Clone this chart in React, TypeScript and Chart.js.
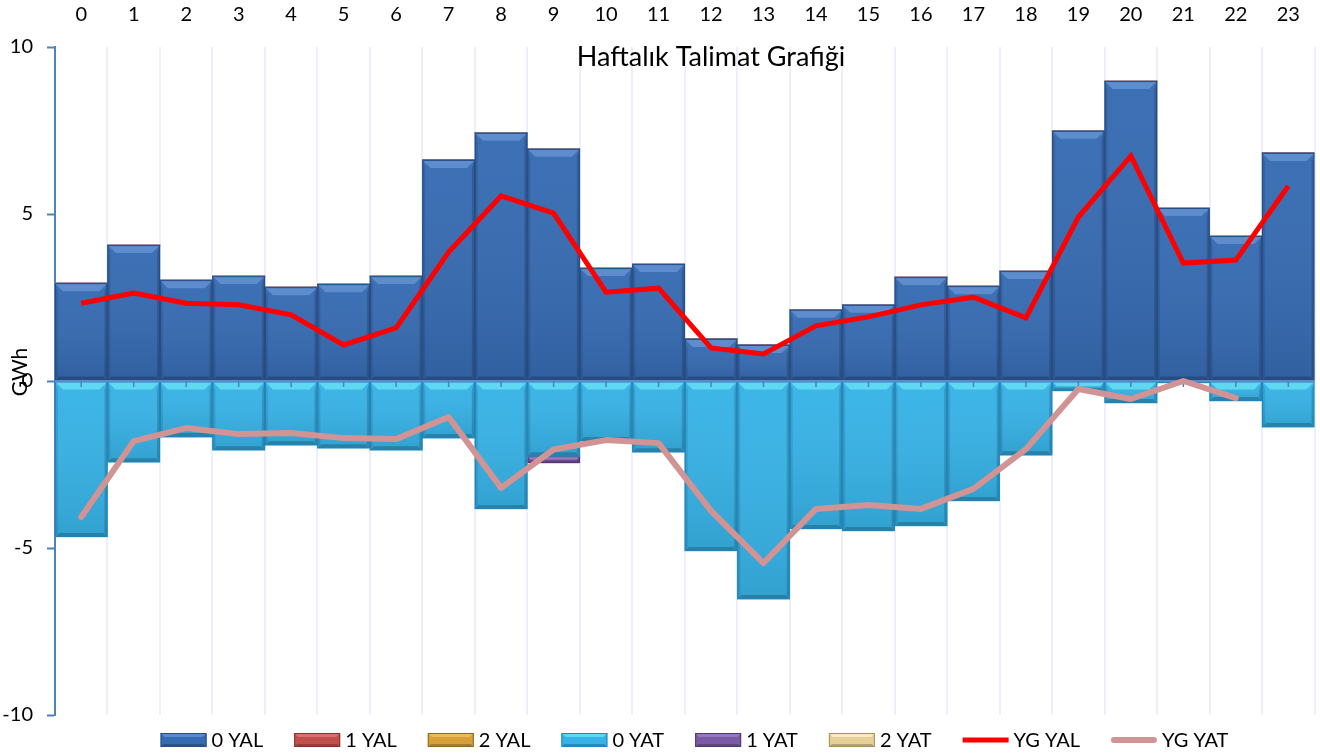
import React, { useEffect, useRef } from "react";
import { Chart, registerables } from "chart.js";

Chart.register(...registerables);

const hours = ["0","1","2","3","4","5","6","7","8","9","10","11","12","13","14","15","16","17","18","19","20","21","22","23"];

const yal0 = [2.93, 4.07, 3.02, 3.14, 2.81, 2.9, 3.14, 6.62, 7.43, 6.95, 3.38, 3.5, 1.26, 1.08, 2.13, 2.28, 3.11, 2.84, 3.29, 7.49, 8.98, 5.18, 4.34, 6.83];
const yal1 = [0, 0, 0, 0, 0, 0, 0, 0, 0, 0, 0, 0, 0, 0, 0, 0, 0, 0, 0, 0, 0, 0, 0, 0];
const yal2 = [0, 0, 0, 0, 0, 0, 0, 0, 0, 0, 0, 0, 0, 0, 0, 0, 0, 0, 0, 0, 0, 0, 0, 0];
const yat0 = [-4.67, -2.43, -1.68, -2.07, -1.92, -2.01, -2.07, -1.71, -3.83, -2.25, -1.8, -2.13, -5.09, -6.53, -4.43, -4.49, -4.34, -3.59, -2.22, -0.3, -0.66, -0.06, -0.6, -1.38];
const yat1 = [0, 0, 0, 0, 0, 0, 0, 0, 0, -0.2, 0, 0, 0, 0, 0, 0, 0, 0, 0, 0, 0, 0, 0, 0];
const yat2 = [0, 0, 0, 0, 0, 0, 0, 0, 0, 0, 0, 0, 0, 0, 0, 0, 0, 0, 0, 0, 0, 0, 0, 0];
const ygYal = [2.33, 2.63, 2.33, 2.28, 1.98, 1.08, 1.59, 3.86, 5.54, 5.03, 2.66, 2.78, 0.99, 0.81, 1.65, 1.92, 2.28, 2.51, 1.89, 4.91, 6.74, 3.53, 3.62, 5.84];
const ygYat = [-4.07, -1.8, -1.41, -1.59, -1.56, -1.71, -1.74, -1.08, -3.2, -2.05, -1.77, -1.86, -3.89, -5.45, -3.83, -3.71, -3.83, -3.23, -2.04, -0.24, -0.54, 0.0, -0.51, null];

const yTicks = [-10, -5, 0, 5, 10];

const titleText = "Haftalık Talimat Grafiği";
const yTitleText = "GWh";
const FONT = "Lato, 'Open Sans', sans-serif";

const barSeries = [
  { label: "0 YAL", data: yal0, color: "#366BB2", border: "#274C84", top: "rgba(120,165,225,0.55)" },
  { label: "1 YAL", data: yal1, color: "#C0504D", border: "#8C2E2C", top: "rgba(240,130,128,0.6)" },
  { label: "2 YAL", data: yal2, color: "#D6A13A", border: "#8E6A1E", top: "rgba(250,205,110,0.6)" },
  { label: "0 YAT", data: yat0, color: "#37B3E7", border: "#2383BB", top: "rgba(110,232,245,0.7)" },
  { label: "1 YAT", data: yat1, color: "#7B5AA6", border: "#4E3770", top: "rgba(170,140,210,0.6)" },
  { label: "2 YAT", data: yat2, color: "#E6D09A", border: "#A98F55", top: "rgba(255,245,205,0.7)" },
];
const lineSeries = [
  { label: "YG YAL", data: ygYal, color: "#FF0000", width: 5, cap: "butt" },
  { label: "YG YAT", data: ygYat, color: "#D19393", width: 6, cap: "round" },
];

const bevelPlugin = {
  id: "bevel",
  afterDatasetDraw(chart: any, args: any) {
    const meta = args.meta;
    if (meta.type !== "bar") return;
    const ds = chart.data.datasets[args.index];
    const ctx = chart.ctx;
    const ca = chart.chartArea;
    ctx.save();
    ctx.beginPath();
    ctx.rect(ca.left, ca.top, ca.width, ca.height);
    ctx.clip();
    meta.data.forEach((el: any) => {
      const p = el.getProps(["x", "y", "base", "width"], true);
      const l = p.x - p.width / 2;
      const r = p.x + p.width / 2;
      const t = Math.min(p.y, p.base);
      const b = Math.max(p.y, p.base);
      const h = b - t;
      if (h < 0.8) return;
      const bv = Math.min(8, h / 2);
      const sv = Math.min(3, h / 2);
      const bb = Math.min(4, h / 3);
      const g = ctx.createLinearGradient(0, t, 0, b);
      g.addColorStop(0, "rgba(255,255,255,0.03)");
      g.addColorStop(1, "rgba(0,0,0,0.1)");
      ctx.fillStyle = g;
      ctx.fillRect(l, t, r - l, h);
      // top bevel
      ctx.fillStyle = ds._top;
      ctx.beginPath();
      ctx.moveTo(l, t);
      ctx.lineTo(r, t);
      ctx.lineTo(r - bv, t + bv);
      ctx.lineTo(l + bv, t + bv);
      ctx.closePath();
      ctx.fill();
      // left bevel
      ctx.fillStyle = "rgba(0,0,0,0.1)";
      ctx.beginPath();
      ctx.moveTo(l, t);
      ctx.lineTo(l + sv, t + bv);
      ctx.lineTo(l + sv, b - bb);
      ctx.lineTo(l, b);
      ctx.closePath();
      ctx.fill();
      // right bevel
      ctx.fillStyle = "rgba(0,0,0,0.16)";
      ctx.beginPath();
      ctx.moveTo(r, t);
      ctx.lineTo(r - sv, t + bv);
      ctx.lineTo(r - sv, b - bb);
      ctx.lineTo(r, b);
      ctx.closePath();
      ctx.fill();
      // bottom bevel
      ctx.fillStyle = "rgba(0,0,0,0.2)";
      ctx.beginPath();
      ctx.moveTo(l, b);
      ctx.lineTo(l + bb, b - bb);
      ctx.lineTo(r - bb, b - bb);
      ctx.lineTo(r, b);
      ctx.closePath();
      ctx.fill();
      ctx.strokeStyle = ds._edge;
      ctx.lineWidth = 1;
      ctx.strokeRect(l + 0.5, t + 0.5, r - l - 1, Math.max(h - 1, 0));
    });
    ctx.restore();

    if (ds.label === "0 YAL") {
      const ys = chart.scales.y;
      const xs = chart.scales.x;
      const y0 = ys.getPixelForValue(0);
      ctx.save();
      ctx.strokeStyle = "#5B8BCB";
      ctx.lineWidth = 2;
      ctx.beginPath();
      ctx.moveTo(ca.left, y0);
      ctx.lineTo(ca.right, y0);
      ctx.stroke();
      ctx.strokeStyle = "#4F7FBC";
      ctx.lineWidth = 1.5;
      hours.forEach((_, i) => {
        const x = xs.getPixelForValue(i);
        ctx.beginPath();
        ctx.moveTo(x, y0);
        ctx.lineTo(x, y0 + 6);
        ctx.stroke();
      });
      ctx.restore();
    }
  },
};

const textPlugin = {
  id: "texts",
  afterDraw(chart: any) {
    const ctx = chart.ctx;
    ctx.save();
    ctx.fillStyle = "#000";
    ctx.font = `27px ${FONT}`;
    ctx.textAlign = "center";
    ctx.textBaseline = "middle";
    ctx.fillText(titleText, 711, 57);

    ctx.save();
    ctx.translate(20, 372);
    ctx.rotate(-Math.PI / 2);
    ctx.font = `21px ${FONT}`;
    ctx.fillText(yTitleText, 0, 0);
    ctx.restore();

    // legend
    const items: any[] = [
      ...barSeries.map((s) => ({ type: "box", label: s.label, color: s.color, border: s.border, top: s.top })),
      ...lineSeries.map((s) => ({ type: "line", label: s.label, color: s.color, width: s.width, cap: s.cap })),
    ];
    ctx.font = `20px ${FONT}`;
    const symW = 46;
    const gapSym = 6;
    const gapItem = 30;
    let total = 0;
    items.forEach((it, i) => {
      it.tw = ctx.measureText(it.label).width;
      total += symW + gapSym + it.tw + (i < items.length - 1 ? gapItem : 0);
    });
    let x = 695 - total / 2;
    const cy = 740;
    ctx.textAlign = "left";
    items.forEach((it) => {
      if (it.type === "box") {
        const bh = 14;
        const t = cy - bh / 2;
        ctx.fillStyle = it.color;
        ctx.fillRect(x, t, symW, bh);
        ctx.fillStyle = it.top;
        ctx.beginPath();
        ctx.moveTo(x, t);
        ctx.lineTo(x + symW, t);
        ctx.lineTo(x + symW - 4, t + 4);
        ctx.lineTo(x + 4, t + 4);
        ctx.closePath();
        ctx.fill();
        ctx.fillStyle = "rgba(0,0,0,0.22)";
        ctx.beginPath();
        ctx.moveTo(x, t + bh);
        ctx.lineTo(x + 3, t + bh - 3);
        ctx.lineTo(x + symW - 3, t + bh - 3);
        ctx.lineTo(x + symW, t + bh);
        ctx.closePath();
        ctx.fill();
        ctx.strokeStyle = it.border;
        ctx.lineWidth = 1;
        ctx.strokeRect(x + 0.5, t + 0.5, symW - 1, bh - 1);
      } else {
        ctx.strokeStyle = it.color;
        ctx.lineWidth = it.width;
        ctx.lineCap = it.cap;
        ctx.beginPath();
        const inset = it.cap === "round" ? it.width / 2 : 0;
        ctx.moveTo(x + inset, cy);
        ctx.lineTo(x + symW - inset, cy);
        ctx.stroke();
      }
      ctx.fillStyle = "#000";
      ctx.textBaseline = "middle";
      ctx.fillText(it.label, x + symW + gapSym - 1, cy + 1);
      x += symW + gapSym + it.tw + gapItem;
    });
    ctx.restore();
  },
};

export default function App() {
  const ref = useRef<HTMLCanvasElement | null>(null);
  useEffect(() => {
    if (!ref.current) return;
    const datasets: any[] = [
      ...barSeries.map((s) => ({
        type: "bar",
        label: s.label,
        data: s.data,
        backgroundColor: s.color,
        borderWidth: 0,
        _edge: s.border,
        _top: s.top,
        barPercentage: 1,
        categoryPercentage: 1,
        stack: "bars",
        order: 1,
      })),
      ...lineSeries.map((s, i) => ({
        type: "line",
        label: s.label,
        data: s.data,
        borderColor: s.color,
        backgroundColor: s.color,
        borderWidth: s.width,
        borderCapStyle: s.cap,
        borderJoinStyle: s.cap === "round" ? "round" : "miter",
        pointRadius: 0,
        tension: 0,
        fill: false,
        stack: "line" + i,
        order: 0,
      })),
    ];
    const chart = new Chart(ref.current, {
      type: "bar",
      data: { labels: hours, datasets },
      plugins: [bevelPlugin, textPlugin],
      options: {
        animation: false,
        responsive: false,
        layout: { padding: { left: 0, right: 4, top: 0, bottom: 41 } },
        plugins: { legend: { display: false }, tooltip: { enabled: false }, title: { display: false } },
        scales: {
          x: {
            position: "top",
            stacked: true,
            afterFit: (s: any) => { s.height = 47; },
            border: { display: false },
            grid: { color: "rgba(200,216,238,0.35)", lineWidth: 2, drawTicks: false, offset: true },
            ticks: { color: "#000", font: { family: FONT, size: 20 }, padding: 20, maxRotation: 0, autoSkip: false },
          },
          y: {
            stacked: true,
            min: -10,
            max: 10,
            afterFit: (s: any) => { s.width = 55; },
            afterBuildTicks: (s: any) => { s.ticks = yTicks.map((v) => ({ value: v })); },
            border: { display: true, color: "#4F81BD", width: 2 },
            grid: { drawOnChartArea: false, drawTicks: true, tickLength: 8, tickColor: "#4F81BD", tickWidth: 2 },
            ticks: { color: "#000", font: { family: FONT, size: 20 }, padding: 14 },
          },
        },
      } as any,
    });
    return () => chart.destroy();
  }, []);
  return (
    <div style={{ position: "absolute", left: 0, top: 0, width: 1320, height: 756, background: "#fff" }}>
      <canvas ref={ref} width={1320} height={756} style={{ width: 1320, height: 756 }} />
    </div>
  );
}
